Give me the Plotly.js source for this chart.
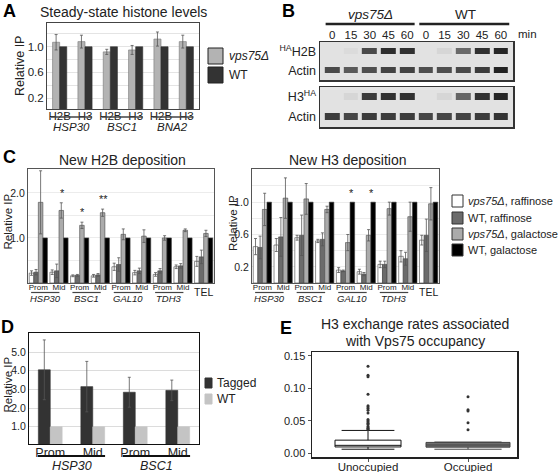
<!DOCTYPE html>
<html>
<head>
<meta charset="utf-8">
<script src="https://cdn.plot.ly/plotly-3.0.1.min.js"></script>
<style>html,body{margin:0;padding:0;background:#fff;}#chart{width:560px;height:472px;}</style>
</head>
<body>
<div id="chart"></div>
<script>
// ---------- Panel A data ----------
const aTargets = ['H2B','H3','H2B','H3','H2B','H3'];
const aGenes = ['HSP30','BSC1','BNA2'];
const aVps = [1.07,1.08,0.92,0.95,1.12,1.08];
const aVpsErr = [0.12,0.10,0.04,0.07,0.11,0.10];
const aWT = [1,1,1,1,1,1];
const aSeries = ['vps75Δ','WT'];

// ---------- Panel B data (band intensities, 0-1) ----------
const blotLanes = ['0','15','30','45','60','0','15','30','45','60'];
const blotStrains = ['vps75Δ','WT'];
const blotRows1 = ['Actin','<sup>HA</sup>H2B'];
const blotRows2 = ['Actin','H3<sup>HA</sup>'];
const blotH2B   = [0.00,0.04,0.70,0.86,0.84,0.00,0.07,0.58,0.84,0.90];
const blotActin1= [0.70,0.64,0.68,0.74,0.74,0.68,0.68,0.70,0.78,0.92];
const blotH3    = [0.00,0.07,0.78,0.84,0.84,0.00,0.07,0.60,0.84,0.90];
const blotActin2= [0.78,0.72,0.78,0.78,0.78,0.72,0.72,0.74,0.78,0.82];

// ---------- Panel C data ----------
const cSites = ['Prom','Mid','Prom','Mid','Prom','Mid','Prom','Mid','TEL'];
const cGenes = ['HSP30','BSC1','GAL10','TDH3'];
const cSeries = ['vps75Δ, raffinose','WT, raffinose','vps75Δ, galactose','WT, galactose'];
const h2bVpsRaf    = [0.22,0.24,0.16,0.16,0.36,0.23,0.19,0.36,0.48];
const h2bVpsRafErr = [0.05,0.05,0.02,0.03,0.08,0.05,0.04,0.04,0.11];
const h2bWtRaf     = [0.24,0.27,0.17,0.18,0.41,0.27,0.27,0.38,0.58];
const h2bWtRafErr  = [0.06,0.15,0.02,0.03,0.15,0.06,0.05,0.05,0.15];
const h2bVpsGal    = [1.79,1.61,1.28,1.56,1.08,1.04,1.00,1.17,1.10];
const h2bVpsGalErr = [0.70,0.17,0.07,0.08,0.12,0.14,0.05,0.03,0.07];
const h2bWtGal     = [1,1,1,1,1,1,1,1,1];
const h2bSig       = ['','*','*','**','','','','',''];

const h3VpsRaf    = [0.45,0.47,0.56,0.52,0.16,0.14,0.23,0.33,0.53];
const h3VpsRafErr = [0.10,0.08,0.03,0.02,0.03,0.03,0.04,0.07,0.06];
const h3WtRaf     = [0.44,0.57,0.59,0.54,0.15,0.11,0.23,0.30,0.59];
const h3WtRafErr  = [0.14,0.24,0.25,0.08,0.01,0.02,0.04,0.08,0.20];
const h3VpsGal    = [0.91,1.05,1.04,0.91,0.50,0.59,0.92,0.82,0.98];
const h3VpsGalErr = [0.20,0.25,0.19,0.04,0.10,0.07,0.08,0.18,0.20];
const h3WtGal     = [1,1,1,1,1,1,1,1,1];
const h3Sig       = ['','','','','*','*','','',''];

// ---------- Panel D data ----------
const dSites = ['Prom','Mid','Prom','Mid'];
const dGenes = ['HSP30','BSC1'];
const dSeries = ['Tagged','WT'];
const dTagged = [4.05,3.15,2.85,2.95];
const dTaggedErr = [1.60,1.35,0.80,0.55];
const dWT = [1,1,1,1];

// ---------- Panel E data ----------
const eGroups = ['Unoccupied','Occupied'];
const eQ1 = [0.0095,0.0092];
const eMedian = [0.0120,0.0125];
const eQ3 = [0.0200,0.0165];
const eLowFence = [0.0060,0.0060];
const eUpFence = [0.0350,0.0170];
const eOutUnocc = [0.134,0.120,0.118,0.091,0.073,0.071,0.069,0.066,0.062,0.052,0.050,0.048,0.046,0.044,0.041,0.039,0.038,0.037];
const eOutOcc = [0.087,0.067,0.065,0.047,0.036];

// ---------- helpers ----------
const FONT = 'Liberation Sans, Arial, Helvetica, sans-serif';
const W = 560, H = 472;
const px = x => x / W;
const py = y => 1 - y / H;
const idx = n => Array.from({length:n}, (_, i) => i);
const annotations = [];
const shapes = [];
function ann(text, x, y, o) {
  o = o || {};
  annotations.push(Object.assign({
    text: text, x: px(x), y: py(y), xref: 'paper', yref: 'paper', showarrow: false,
    xanchor: 'center', yanchor: 'middle',
    font: {family: FONT, size: o.size || 12, color: o.color || '#222'}
  }, o.extra || {}));
}
function axAnn(text, xref, xv, y, size, italic) {
  annotations.push({
    text: italic ? '<i>' + text + '</i>' : text, x: xv, y: py(y), xref: xref, yref: 'paper',
    showarrow: false, xanchor: 'center', yanchor: 'middle',
    font: {family: FONT, size: size, color: '#222'}
  });
}
function hline(xref, x0, x1, y, width, color) {
  shapes.push({type:'line', xref: xref, yref:'paper', x0:x0, x1:x1, y0:py(y), y1:py(y),
    line:{color: color || '#333', width: width}});
}
function rect(x0, y0, x1, y1, fill, lineColor) {
  shapes.push({type:'rect', xref:'paper', yref:'paper', x0:px(x0), x1:px(x1), y0:py(y1), y1:py(y0),
    fillcolor: fill, line:{color: lineColor || '#222', width: 1}});
}
function italSeries(s) {
  return s.replace('vps75Δ', '<i>vps75Δ</i>');
}
function bar(xa, ya, xs, ys, err, color, offset, width, name, lineColor) {
  const t = {type:'bar', xaxis: xa, yaxis: ya, x: xs, y: ys, name: name,
    offset: offset, width: width, hoverinfo:'skip',
    marker: {color: color, line: {color: lineColor || '#444', width: 0.6}}};
  if (err) t.error_y = {type:'data', array: err, visible: true, color:'#555', thickness: 0.8, width: 1.5};
  return t;
}

const traces = [];

// ---------- Panel A ----------
const aX = idx(aTargets.length);
traces.push(bar('x','y', aX, aVps, aVpsErr, '#b3b3b3', -0.28, 0.28, aSeries[0], '#777'));
traces.push(bar('x','y', aX, aWT, null, '#333333', 0.0, 0.28, aSeries[1], '#333'));
aGenes.forEach((g, i) => {
  const c = 2 * i + 0.5;
  hline('x', c - 0.84, c + 0.78, 117, 1.6, '#444');
  axAnn(g, 'x', c - 0.03, 127, 11.5, true);
});
ann('Steady-state histone levels', 123, 12, {size: 14});
ann('Relative IP', 20, 66, {size: 12.5, extra: {textangle: -90}});
rect(208, 48, 223, 64, '#b3b3b3');
rect(208, 67, 223, 83, '#333333');
ann(italSeries(aSeries[0]), 227, 56, {size: 12, extra: {xanchor: 'left'}});
ann(aSeries[1], 227, 75, {size: 12, extra: {xanchor: 'left'}});

// ---------- Panel B ----------
const blotScale = [[0,'#e2e2e2'],[0.35,'#a8a8a8'],[0.7,'#4a4a4a'],[1,'#141414']];
const bX = idx(blotLanes.length);
traces.push({type:'heatmap', xaxis:'x2', yaxis:'y2', x: bX, y:[0,1], z:[blotActin1, blotH2B],
  zmin:0, zmax:1, colorscale: blotScale, showscale:false, xgap:4, ygap:13, hoverinfo:'skip'});
traces.push({type:'heatmap', xaxis:'x3', yaxis:'y3', x: bX, y:[0,1], z:[blotActin2, blotH3],
  zmin:0, zmax:1, colorscale: blotScale, showscale:false, xgap:4, ygap:13, hoverinfo:'skip'});
['x2','x3'].forEach((xa, k) => {
  const ya = k === 0 ? 'y2' : 'y3';
  shapes.push({type:'rect', xref: xa + ' domain', yref: ya + ' domain', x0:0, x1:1, y0:0, y1:1,
    layer:'below', fillcolor:'#e2e2e2', line:{width:0}});
});
ann(italSeries(blotStrains[0]), 370, 14, {size: 13.5});
ann(blotStrains[1], 465, 14, {size: 13.5});
shapes.push({type:'line', xref:'x2', yref:'paper', x0:-0.35, x1:4.4, y0:py(24), y1:py(24), line:{color:'#222', width:2.5}});
shapes.push({type:'line', xref:'x2', yref:'paper', x0:4.65, x1:9.45, y0:py(24), y1:py(24), line:{color:'#222', width:2.5}});
ann('min', 527, 34, {size: 11.5});

// ---------- Panel C ----------
const cX = idx(cSites.length);
const cColors = ['#ffffff','#6b6b6b','#ababab','#000000'];
const cOff = [-0.44, -0.22, 0.0, 0.22];
const cW = 0.22;
const h2bSets = [[h2bVpsRaf,h2bVpsRafErr],[h2bWtRaf,h2bWtRafErr],[h2bVpsGal,h2bVpsGalErr],[h2bWtGal,null]];
const h3Sets = [[h3VpsRaf,h3VpsRafErr],[h3WtRaf,h3WtRafErr],[h3VpsGal,h3VpsGalErr],[h3WtGal,null]];
h2bSets.forEach((s, k) => traces.push(bar('x4','y4', cX, s[0], s[1], cColors[k], cOff[k], cW, cSeries[k])));
h3Sets.forEach((s, k) => traces.push(bar('x5','y5', cX, s[0], s[1], cColors[k], cOff[k], cW, cSeries[k])));
// significance marks
h2bSig.forEach((s, i) => { if (s) annotations.push({text: s, xref:'x4', yref:'y4', x: i + 0.16,
  y: h2bVpsGal[i] + h2bVpsGalErr[i] + 0.04, yanchor:'bottom', showarrow:false,
  font:{family: FONT, size: 11, color:'#222'}}); });
h3Sig.forEach((s, i) => { if (s) annotations.push({text: s, xref:'x5', yref:'y5', x: i + 0.27,
  y: h3WtGal[i] + 0.01, yanchor:'bottom', showarrow:false,
  font:{family: FONT, size: 11, color:'#222'}}); });
['x4','x5'].forEach(xa => {
  cGenes.forEach((g, i) => {
    const c = 2 * i;
    hline(xa, c - 0.35, c + 1.02, 292.5, 1.2, '#444');
    axAnn(g, xa, c + 0.33, 298.5, 9.5, true);
  });
  axAnn(cSites[8], xa, 8, 291.5, 10.5, false);
});
ann('New H2B deposition', 122, 160, {size: 14});
ann('New H3 deposition', 348, 160, {size: 14});
ann('Relative IP', 7.5, 222, {size: 11.5, extra: {textangle: -90}});
ann('Relative IP', 233, 223, {size: 11.5, extra: {textangle: -90}});
const cLegY = [[195,207],[212,224],[228,240],[244,256]];
cSeries.forEach((s, k) => {
  rect(452, cLegY[k][0], 463, cLegY[k][1], cColors[k], '#333');
  ann(italSeries(s), 466, (cLegY[k][0] + cLegY[k][1]) / 2, {size: 11, extra: {xanchor: 'left'}});
});

// ---------- Panel D ----------
const dX = idx(dSites.length);
traces.push(bar('x6','y6', dX, dTagged, dTaggedErr, '#333333', -0.28, 0.28, dSeries[0], '#333'));
traces.push(bar('x6','y6', dX, dWT, null, '#c4c4c4', 0.0, 0.28, dSeries[1], '#c4c4c4'));
dGenes.forEach((g, i) => {
  const c = 2 * i;
  hline('x6', c - 0.29, c + 1.29, 456, 2, '#111');
  axAnn(g, 'x6', c + 0.5, 466, 12.5, true);
});
ann('Relative IP', 7.5, 385, {size: 11.5, extra: {textangle: -90}});
rect(205, 378, 212, 388, '#333333', '#333');
rect(205, 394, 212, 404, '#c4c4c4', '#c4c4c4');
ann(dSeries[0], 215, 383, {size: 12, extra: {xanchor: 'left'}});
ann(dSeries[1], 215, 399, {size: 12, extra: {xanchor: 'left'}});

// ---------- Panel E ----------
const eFill = ['#ffffff','#6e6e6e'];
const eLine = ['#111111','#444444'];
const eWidth = [0.66, 0.84];
eGroups.forEach((g, i) => {
  traces.push({type:'box', xaxis:'x7', yaxis:'y7', x:[i], q1:[eQ1[i]], median:[eMedian[i]], q3:[eQ3[i]],
    lowerfence:[eLowFence[i]], upperfence:[eUpFence[i]], width: eWidth[i], boxpoints:false,
    fillcolor: eFill[i], line:{color: eLine[i], width: 1}, whiskerwidth: 0.8, name: g, hoverinfo:'skip'});
});
traces.push({type:'scatter', mode:'markers', xaxis:'x7', yaxis:'y7',
  x: eOutUnocc.map(() => 0).concat(eOutOcc.map(() => 1)), y: eOutUnocc.concat(eOutOcc),
  marker:{size:3, color:'#333'}, hoverinfo:'skip'});
ann('H3 exchange rates associated', 415, 324, {size: 14});
ann('with Vps75 occupancy', 415, 341, {size: 14});

// panel letters
[['A',9,11],['B',288,11],['C',9,157],['D',7,327],['E',286,328]].forEach(p =>
  ann('<b>' + p[0] + '</b>', p[1], p[2], {size: 18, color: '#000'}));

// ---------- axes ----------
const grid = '#e4e4e4';
const numFont = {family:FONT, size:10.5, color:'#222'};
function frameAx(o) {
  return Object.assign({showline:true, mirror:true, linecolor:'#444', linewidth:1, zeroline:false,
    showgrid:false, ticks:'', ticklen:0, fixedrange:true, tickfont:numFont}, o);
}
const layout = {
  width: W, height: H, margin:{l:0,r:0,t:0,b:0}, paper_bgcolor:'#fff', plot_bgcolor:'#fff',
  showlegend:false, barmode:'overlay', font:{family:FONT, color:'#222', size:11},
  // A
  xaxis: frameAx({domain:[px(47),px(199)], anchor:'y', range:[-0.5,5.5], tickvals:aX, ticktext:aTargets,
    ticklabelstandoff:-4, tickfont:{family:FONT, size:11.5, color:'#222'}}),
  yaxis: frameAx({domain:[py(109),py(23)], anchor:'x', range:[0.03,1.37], tickvals:[0.2,0.6,1.0],
    ticktext:['0.2','0.6','1.0'], showgrid:true, gridcolor:grid, tickfont:{family:FONT, size:11.5, color:'#222'},
    minor:{tickvals:[0.4,0.8,1.2], showgrid:true, gridcolor:grid, ticklen:0}}),
  // B
  xaxis2: frameAx({domain:[px(320),px(513)], anchor:'y2', side:'top', range:[-0.65,9.65], tickvals:bX,
    ticktext:blotLanes, linecolor:'#333', linewidth:1.5, ticklabelstandoff:-3,
    tickfont:{family:FONT, size:11.5, color:'#222'}}),
  yaxis2: frameAx({domain:[py(80),py(42)], anchor:'x2', range:[-0.5,1.5], tickvals:[0,1], ticktext:blotRows1,
    linecolor:'#333', linewidth:1.5, tickfont:{family:FONT, size:12.5, color:'#222'}}),
  xaxis3: frameAx({domain:[px(320),px(513)], anchor:'y3', range:[-0.65,9.65], showticklabels:false,
    linecolor:'#333', linewidth:1.5}),
  yaxis3: frameAx({domain:[py(127),py(87)], anchor:'x3', range:[-0.5,1.5], tickvals:[0,1], ticktext:blotRows2,
    linecolor:'#333', linewidth:1.5, tickfont:{family:FONT, size:12.5, color:'#222'}}),
  // C left
  xaxis4: frameAx({domain:[px(28),px(214)], anchor:'y4', range:[-0.5,8.5], tickvals:cX.slice(0,8),
    ticktext:cSites.slice(0,8), linecolor:'#555', ticklabelstandoff:-4, tickfont:{family:FONT, size:8, color:'#222'}}),
  yaxis4: frameAx({domain:[py(283),py(169)], anchor:'x4', range:[0,2.53], tickvals:[1,2], ticktext:['1.0','2.0'],
    linecolor:'#555', showgrid:true, gridcolor:'#ececec',
    minor:{tickvals:[0.5,1.5], showgrid:true, gridcolor:'#ececec', ticklen:0}}),
  // C right
  xaxis5: frameAx({domain:[px(252),px(439)], anchor:'y5', range:[-0.5,8.5], tickvals:cX.slice(0,8),
    ticktext:cSites.slice(0,8), linecolor:'#555', ticklabelstandoff:-4, tickfont:{family:FONT, size:8, color:'#222'}}),
  yaxis5: frameAx({domain:[py(283),py(169)], anchor:'x5', range:[0,1.41], tickvals:[0.2,0.6,1.0],
    ticktext:['0.2','0.6','1.0'], linecolor:'#555', showgrid:true, gridcolor:'#ececec',
    minor:{tickvals:[0.4,0.8,1.2,1.4], showgrid:true, gridcolor:'#ececec', ticklen:0}}),
  // D
  xaxis6: frameAx({domain:[px(29),px(199)], anchor:'y6', range:[-0.5,3.5], tickvals:dX, ticktext:dSites,
    linecolor:'#111', ticklabelstandoff:-3, tickfont:{family:FONT, size:12.5, color:'#222'}}),
  yaxis6: frameAx({domain:[py(444),py(333)], anchor:'x6', range:[0.08,6.02], tickvals:[1,2,3,4,5],
    ticktext:['1.0','2.0','3.0','4.0','5.0'], linecolor:'#111', showgrid:true, gridcolor:'#dcdcdc'}),
  // E
  xaxis7: frameAx({domain:[px(312),px(517)], anchor:'y7', range:[-0.56,1.49], tickvals:[0,1], ticktext:eGroups,
    linecolor:'#222', linewidth:1.5, ticks:'outside', ticklen:3, tickcolor:'#555', ticklabelstandoff:-4,
    tickfont:{family:FONT, size:11.5, color:'#222'}}),
  yaxis7: frameAx({domain:[py(457),py(352)], anchor:'x7', range:[-0.006,0.156], tickvals:[0,0.05,0.10,0.15],
    ticktext:['0.00','0.05','0.10','0.15'], linecolor:'#222', linewidth:1.5, ticks:'outside', ticklen:3,
    tickcolor:'#555', tickfont:{family:FONT, size:11, color:'#222'}}),
  annotations: annotations,
  shapes: shapes
};

Plotly.newPlot('chart', traces, layout, {staticPlot:true, displayModeBar:false});
</script>
</body>
</html>
